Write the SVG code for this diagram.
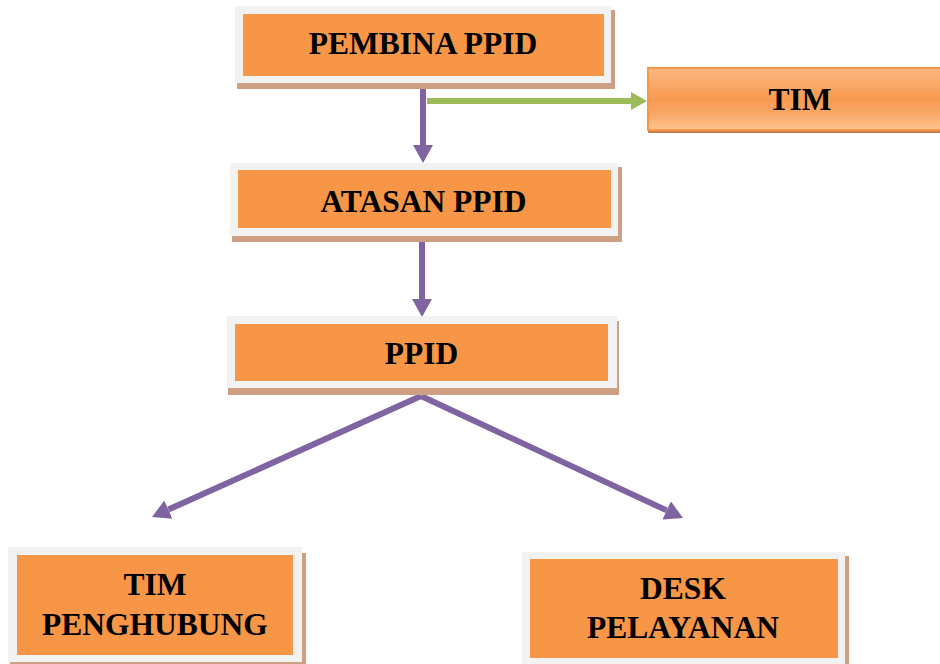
<svg xmlns="http://www.w3.org/2000/svg" width="940" height="664" viewBox="0 0 940 664">
<style>
.frame{fill:#F2F2F2}
.shadow{fill:#CE9F83}
.core{fill:#F79646}
.lbl{font-family:"Liberation Serif","Times New Roman",serif;font-weight:bold;font-size:31.5px;fill:#000;text-anchor:middle}
.purple{stroke:#8064A2;stroke-width:6;fill:none}
.green{stroke:#9BBB59;stroke-width:6;fill:none}
</style>
<defs>
<marker id="ph" markerUnits="userSpaceOnUse" markerWidth="18" markerHeight="20" refX="0" refY="10" orient="auto">
<path d="M0,0 L18,10 L0,20 Z" fill="#8064A2"/>
</marker>
<marker id="gh" markerUnits="userSpaceOnUse" markerWidth="16" markerHeight="18" refX="0" refY="9" orient="auto">
<path d="M0,0 L16,9 L0,18 Z" fill="#9BBB59"/>
</marker>
<linearGradient id="timg" x1="0" y1="0" x2="0" y2="1">
<stop offset="0" stop-color="#FBB680"/>
<stop offset="0.3" stop-color="#F9A765"/>
<stop offset="0.5" stop-color="#F79A50"/>
<stop offset="0.75" stop-color="#F9A868"/>
<stop offset="1" stop-color="#FCC58F"/>
</linearGradient>
</defs>
<g id="connectors">
<path class="purple" d="M423,88 L423,145" marker-end="url(#ph)"/>
<path class="purple" d="M422,242 L422,299" marker-end="url(#ph)"/>
<path class="green" d="M427,101 L631,101" marker-end="url(#gh)"/>
<path class="purple" d="M421,396 L168.4,509.6" marker-end="url(#ph)"/>
<path class="purple" d="M421,396 L666.7,510.4" marker-end="url(#ph)"/>
</g>
<g id="pembina">
<rect class="shadow" x="237" y="10" width="378" height="79"/>
<rect class="frame" x="235" y="6" width="376" height="77"/>
<rect class="core" x="243" y="14" width="361" height="62"/>
<text class="lbl" x="423" y="54">PEMBINA PPID</text>
</g>
<g id="tim">
<rect x="648" y="68" width="300" height="65" fill="#C27E50"/>
<rect x="648" y="68" width="300" height="62" fill="url(#timg)" stroke="#F79646" stroke-width="2"/>
<text class="lbl" x="800" y="110">TIM</text>
</g>
<g id="atasan">
<rect class="shadow" x="232" y="167" width="390" height="75"/>
<rect class="frame" x="230" y="163" width="388" height="73"/>
<rect class="core" x="238" y="170" width="373" height="58"/>
<text class="lbl" x="423.5" y="212">ATASAN PPID</text>
</g>
<g id="ppid">
<rect class="shadow" x="228" y="321" width="391" height="74"/>
<rect class="frame" x="227" y="316" width="390" height="72"/>
<rect class="core" x="235" y="324" width="373" height="57"/>
<text class="lbl" x="421.5" y="364">PPID</text>
</g>
<g id="tim-penghubung">
<rect class="shadow" x="10" y="553" width="296" height="112"/>
<rect class="frame" x="8" y="547" width="294" height="115"/>
<rect class="core" x="17" y="555" width="276" height="100"/>
<text class="lbl" x="155" y="595">TIM</text>
<text class="lbl" x="155" y="635">PENGHUBUNG</text>
</g>
<g id="desk-pelayanan">
<rect class="shadow" x="524" y="556" width="325" height="114"/>
<rect class="frame" x="522" y="552" width="323" height="116"/>
<rect class="core" x="530" y="559" width="308" height="99"/>
<text class="lbl" x="683" y="599">DESK</text>
<text class="lbl" x="683" y="638">PELAYANAN</text>
</g>
</svg>
